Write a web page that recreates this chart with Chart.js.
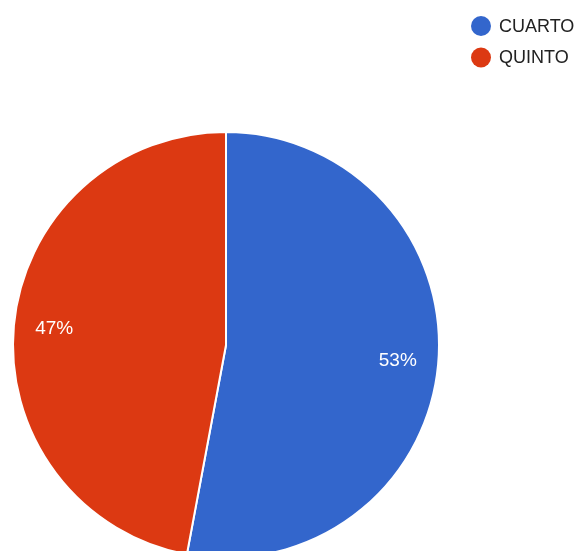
<!DOCTYPE html>
<html>
<head>
<meta charset="utf-8">
<script src="https://cdn.jsdelivr.net/npm/chart.js@4"></script>
<style>
  html, body { margin: 0; padding: 0; background: #fff; overflow: hidden; }
  body { width: 579px; height: 551px; }
  canvas { display: block; }
</style>
</head>
<body>
<canvas id="pieChart" width="579" height="600"></canvas>
<script>
const categories = ['CUARTO', 'QUINTO'];
const counts = [9, 8];
const sliceColors = ['#3366cc', '#dc3912'];

// percent labels inside each slice
const sliceLabels = {
    id: 'sliceLabels',
    afterDatasetsDraw(chart) {
        const ctx = chart.ctx;
        const meta = chart.getDatasetMeta(0);
        const total = counts.reduce((a, b) => a + b, 0);
        ctx.save();
        ctx.font = '19px "Liberation Sans", Arial, sans-serif';
        ctx.fillStyle = '#fff';
        ctx.textAlign = 'center';
        ctx.textBaseline = 'middle';
        meta.data.forEach((arc, i) => {
            const mid = (arc.startAngle + arc.endAngle) / 2;
            const r = arc.outerRadius * 0.81;
            const x = arc.x + Math.cos(mid) * r;
            const y = arc.y + Math.sin(mid) * r;
            ctx.fillText(Math.round(counts[i] / total * 100) + '%', x, y);
        });
        ctx.restore();
    }
};

// legend top right, round markers
const dotLegend = {
    id: 'dotLegend',
    afterDraw(chart) {
        const ctx = chart.ctx;
        ctx.save();
        ctx.font = '18px "Liberation Sans", Arial, sans-serif';
        ctx.textBaseline = 'middle';
        categories.forEach((name, i) => {
            const y = 26 + i * 31.5;
            ctx.fillStyle = sliceColors[i];
            ctx.beginPath();
            ctx.arc(481, y, 10, 0, Math.PI * 2);
            ctx.fill();
            ctx.fillStyle = '#222';
            ctx.fillText(name, 499, y + 1);
        });
        ctx.restore();
    }
};

new Chart(document.getElementById('pieChart').getContext('2d'), {
    type: 'pie',
    data: {
        labels: categories,
        datasets: [{
            data: counts,
            backgroundColor: sliceColors,
            borderColor: '#fff',
            borderWidth: 2
        }]
    },
    options: {
        responsive: false,
        animation: false,
        layout: { padding: { left: 12, top: 131, right: 139, bottom: 41 } },
        plugins: {
            legend: { display: false },
            tooltip: { enabled: false }
        }
    },
    plugins: [sliceLabels, dotLegend]
});
</script>
</body>
</html>
